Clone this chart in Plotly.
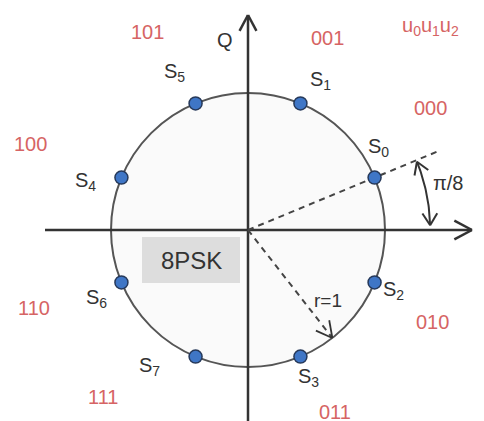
import numpy as np
import plotly.graph_objects as go

# ---- data ----
symbols = ["S0", "S1", "S2", "S3", "S4", "S5", "S6", "S7"]
angles_deg = [22.5, 67.5, -22.5, -67.5, 157.5, 112.5, -157.5, -112.5]
codes = ["000", "001", "010", "011", "100", "101", "110", "111"]
radius = 1.0
r_arrow_angle = -52.0
phase_label = "π/8"
box_label = "8PSK"

# ---- layout helpers (pixel geometry of the canvas) ----
W, H = 484, 421
CX, CY, PX = 248.0, 230.0, 137.0  # centre in px, px per unit


def u(px, py):
    return (px - CX) / PX, (CY - py) / PX


# label offsets (px, right/up) relative to each symbol
sym_off = {"S0": (4, 30), "S1": (20, 23), "S2": (19, -8), "S3": (8, -21),
           "S4": (-36, -4), "S5": (-21, 31), "S6": (-25, -16), "S7": (-46, -10)}
# code label pixel positions
code_pos = {"000": (430, 108), "001": (327, 38), "010": (432, 322), "011": (335, 412),
            "100": (30, 144), "101": (147, 32), "110": (34, 308), "111": (103, 397)}

DARK = "#333333"
RED = "#d66464"
FONT = "Liberation Sans, Arial, sans-serif"

fig = go.Figure()


def vhead(tx, ty, ang_deg, L=16 / 137, spread=30):
    xs, ys = [], []
    for s in (spread, -spread):
        a = np.radians(ang_deg + 180 + s)
        xs += [tx + L * np.cos(a), tx, None]
        ys += [ty + L * np.sin(a), ty, None]
    return xs, ys


# axes
x0, _ = u(45, 0)
x1, _ = u(472, 0)
_, y1 = u(0, 15)
_, y0 = u(0, 430)
fig.add_trace(go.Scatter(x=[x0, x1], y=[0, 0], mode="lines",
                         line=dict(color=DARK, width=2.5), hoverinfo="skip"))
fig.add_trace(go.Scatter(x=[0, 0], y=[y0, y1], mode="lines",
                         line=dict(color=DARK, width=2.5), hoverinfo="skip"))
hx, hy = vhead(x1, 0, 0, L=20 / 137, spread=28)
fig.add_trace(go.Scatter(x=hx, y=hy, mode="lines", line=dict(color=DARK, width=2.5), hoverinfo="skip"))
hx, hy = vhead(0, y1, 90, L=18 / 137, spread=28)
fig.add_trace(go.Scatter(x=hx, y=hy, mode="lines", line=dict(color=DARK, width=2.5), hoverinfo="skip"))

# dashed phase reference line through S0
a0 = np.radians(angles_deg[0])
Lr = 1.52
fig.add_trace(go.Scatter(x=[0, Lr * np.cos(a0)], y=[0, Lr * np.sin(a0)], mode="lines",
                         line=dict(color="#444", width=2, dash="6px,5px"), hoverinfo="skip"))

# r=1 dashed arrow
ar = np.radians(r_arrow_angle)
tx, ty = radius * np.cos(ar), radius * np.sin(ar)
fig.add_trace(go.Scatter(x=[0, tx], y=[0, ty], mode="lines",
                         line=dict(color="#444", width=2, dash="6px,5px"), hoverinfo="skip"))
hx, hy = vhead(tx, ty, r_arrow_angle, L=18 / 137, spread=28)
fig.add_trace(go.Scatter(x=hx, y=hy, mode="lines", line=dict(color=DARK, width=1.8), hoverinfo="skip"))

# pi/8 arc arrow
Ra = 1.33
t = np.radians(np.linspace(1.5, 22.0, 30))
fig.add_trace(go.Scatter(x=Ra * np.cos(t), y=Ra * np.sin(t), mode="lines",
                         line=dict(color=DARK, width=2), hoverinfo="skip"))
hx, hy = vhead(Ra * np.cos(t[-1]), Ra * np.sin(t[-1]), 22.0 + 90, L=14 / 137, spread=32)
fig.add_trace(go.Scatter(x=hx, y=hy, mode="lines", line=dict(color=DARK, width=2), hoverinfo="skip"))
hx, hy = vhead(Ra * np.cos(t[0]), Ra * np.sin(t[0]), 1.5 - 90, L=14 / 137, spread=32)
fig.add_trace(go.Scatter(x=hx, y=hy, mode="lines", line=dict(color=DARK, width=2), hoverinfo="skip"))

# constellation points
ang = np.radians(angles_deg)
px_ = radius * np.cos(ang)
py_ = radius * np.sin(ang)
fig.add_trace(go.Scatter(x=px_, y=py_, mode="markers",
                         marker=dict(size=13, color="#3f76c6", line=dict(color="#26395a", width=1.5)),
                         hoverinfo="skip"))

shapes = [
    dict(type="circle", xref="x", yref="y", x0=-radius, y0=-radius, x1=radius, y1=radius,
         line=dict(color="#555", width=2), fillcolor="#fafafa", layer="below"),
]
bx0, by0 = u(142, 283)
bx1, by1 = u(240, 237)
shapes.append(dict(type="rect", xref="x", yref="y", x0=bx0, y0=by0, x1=bx1, y1=by1,
                   line=dict(width=0), fillcolor="#dddddd", layer="below"))

ann = []
for s, xx, yy in zip(symbols, px_, py_):
    dx, dy = sym_off[s]
    ann.append(dict(x=xx + dx / PX, y=yy + dy / PX, text=f"S<sub>{s[1:]}</sub>",
                    showarrow=False, font=dict(size=20, color=DARK, family=FONT)))
for c in codes:
    xx, yy = u(*code_pos[c])
    ann.append(dict(x=xx, y=yy, text=c, showarrow=False, font=dict(size=20, color=RED, family=FONT)))


def txt(px, py, text, size, color=DARK, **kw):
    xx, yy = u(px, py)
    d = dict(x=xx, y=yy, text=text, showarrow=False, font=dict(size=size, color=color, family=FONT))
    d.update(kw)
    ann.append(d)


txt(430, 26, "u<sub>0</sub>u<sub>1</sub>u<sub>2</sub>", 20, RED)
txt(225, 40, "Q", 20)
txt(448, 183, phase_label, 20)
txt(328, 300, "r=1", 19)
txt(191, 260, box_label, 24)
txt(481, 250, "I", 18, xanchor="left")

xr0, yr0 = u(0, H)
xr1, yr1 = u(W, 0)
fig.update_layout(
    width=W, height=H, margin=dict(l=0, r=0, t=0, b=0),
    paper_bgcolor="white", plot_bgcolor="white", showlegend=False,
    xaxis=dict(range=[xr0, xr1], visible=False, fixedrange=True),
    yaxis=dict(range=[yr0, yr1], visible=False, fixedrange=True),
    shapes=shapes, annotations=ann,
)
fig.write_html("out.html", config={"displayModeBar": False},
               post_script="document.body.style.margin='0px';document.body.style.overflow='hidden';")
